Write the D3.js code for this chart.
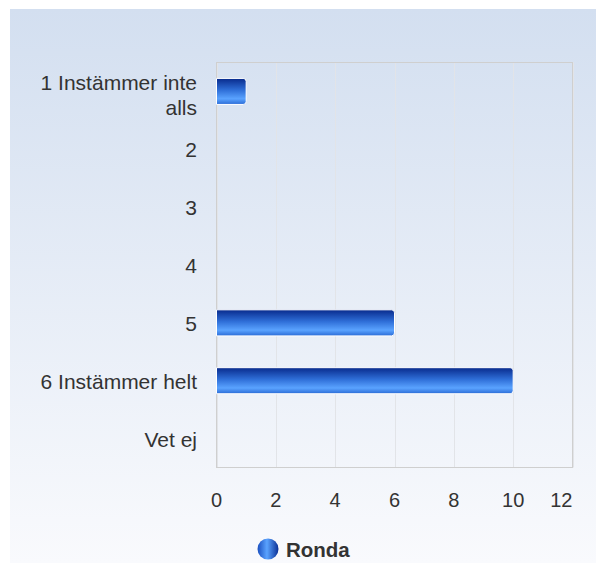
<!DOCTYPE html>
<head>
  <meta charset="utf-8">
  <script src="https://d3js.org/d3.v7.min.js"></script>
  <style>
    body { margin:0; background:#fff; }
    svg { font-family: "Liberation Sans", Arial, sans-serif; display:block; }
  </style>
</head>
<body>
<svg width="596" height="563"></svg>

<script>
  var categories = [["1 Instämmer inte", "alls"], ["2"], ["3"], ["4"], ["5"], ["6 Instämmer helt"], ["Vet ej"]];
  var values     = [1, 0, 0, 0, 6, 10, 0];
  var xTicks     = [0, 2, 4, 6, 8, 10, 12];
  var seriesName = "Ronda";

  var svg = d3.select("svg");
  var plotL = 216.5, plotR = 572.5, plotT = 62.5, plotB = 467.5;

  var defs = svg.append("defs");
  var bg = defs.append("linearGradient").attr("id", "bg")
      .attr("x1", 0).attr("y1", 0).attr("x2", 0).attr("y2", 1);
  bg.append("stop").attr("offset", "0%").attr("stop-color", "#d3dff0");
  bg.append("stop").attr("offset", "100%").attr("stop-color", "#f9fafd");

  var barGrad = defs.append("linearGradient").attr("id", "bar")
      .attr("x1", 0).attr("y1", 0).attr("x2", 0).attr("y2", 1);
  barGrad.append("stop").attr("offset", "0%").attr("stop-color", "#082a8c");
  barGrad.append("stop").attr("offset", "45%").attr("stop-color", "#2f6fd8");
  barGrad.append("stop").attr("offset", "78%").attr("stop-color", "#5aa3ff");
  barGrad.append("stop").attr("offset", "100%").attr("stop-color", "#2a6bd6");

  var dotGrad = defs.append("linearGradient").attr("id", "dot")
      .attr("x1", 0).attr("y1", 0).attr("x2", 1).attr("y2", 0);
  dotGrad.append("stop").attr("offset", "0%").attr("stop-color", "#1a4fc0");
  dotGrad.append("stop").attr("offset", "45%").attr("stop-color", "#5aa3ff");
  dotGrad.append("stop").attr("offset", "100%").attr("stop-color", "#0a2f95");

  svg.append("rect").attr("x", 10).attr("y", 9).attr("width", 586).attr("height", 554)
      .attr("fill", "url(#bg)");

  var x = d3.scaleLinear().domain([0, 12]).range([plotL, plotR]);
  var y = d3.scaleBand().domain(d3.range(categories.length)).range([plotT, plotB]).paddingInner(0.55).paddingOuter(0.275);
  var yStep = d3.scaleBand().domain(d3.range(categories.length)).range([plotT, plotB]);

  // grid
  svg.append("g").selectAll("line").data(xTicks).join("line")
      .attr("x1", d => Math.round(x(d)) + 0.5).attr("x2", d => Math.round(x(d)) + 0.5)
      .attr("y1", plotT).attr("y2", plotB)
      .attr("stroke", "#e2e4e8").attr("stroke-width", 1);

  svg.append("rect").attr("x", plotL).attr("y", plotT)
      .attr("width", plotR - plotL).attr("height", plotB - plotT)
      .attr("fill", "none").attr("stroke", "#cfcfcf");

  // bars
  svg.append("g").selectAll("path").data(values).join("path")
      .attr("d", function (d, i) {
        var x0 = x(0), x1 = x(d), y0 = y(i), h = y.bandwidth(), r = Math.min(3, (x1 - x0));
        if (d === 0) return "";
        return "M" + x0 + "," + y0 + "H" + (x1 - r) + "Q" + x1 + "," + y0 + " " + x1 + "," + (y0 + r) +
          "V" + (y0 + h - r) + "Q" + x1 + "," + (y0 + h) + " " + (x1 - r) + "," + (y0 + h) + "H" + x0 + "Z";
      })
      .attr("fill", "url(#bar)")
      .attr("stroke", "#fff").attr("stroke-width", 1);

  // category labels
  var labels = svg.append("g").selectAll("text").data(categories).join("text")
      .attr("x", 197)
      .attr("y", (d, i) => yStep(i) + yStep.bandwidth() / 2)
      .attr("text-anchor", "end")
      .attr("font-size", 21)
      .attr("fill", "#333");
  labels.each(function (lines) {
    var t = d3.select(this);
    var n = lines.length;
    lines.forEach(function (l, k) {
      t.append("tspan").attr("x", 197)
        .attr("dy", k === 0 ? (8 - (n - 1) * 9) : 24.5)
        .text(l);
    });
  });

  // x ticks (last one kept inside the plot edge)
  svg.append("g").selectAll("text").data(xTicks).join("text")
      .attr("x", (d, i) => i === xTicks.length - 1 ? plotR : x(d)).attr("y", 507)
      .attr("text-anchor", (d, i) => i === xTicks.length - 1 ? "end" : "middle")
      .attr("font-size", 20).attr("fill", "#333")
      .text(d => d);

  // legend
  svg.append("circle").attr("cx", 268).attr("cy", 549).attr("r", 10.5).attr("fill", "url(#dot)");
  svg.append("text").attr("x", 286).attr("y", 557).attr("font-size", 20.5)
      .attr("font-weight", "bold").attr("fill", "#333").text(seriesName);
</script>
</body>
